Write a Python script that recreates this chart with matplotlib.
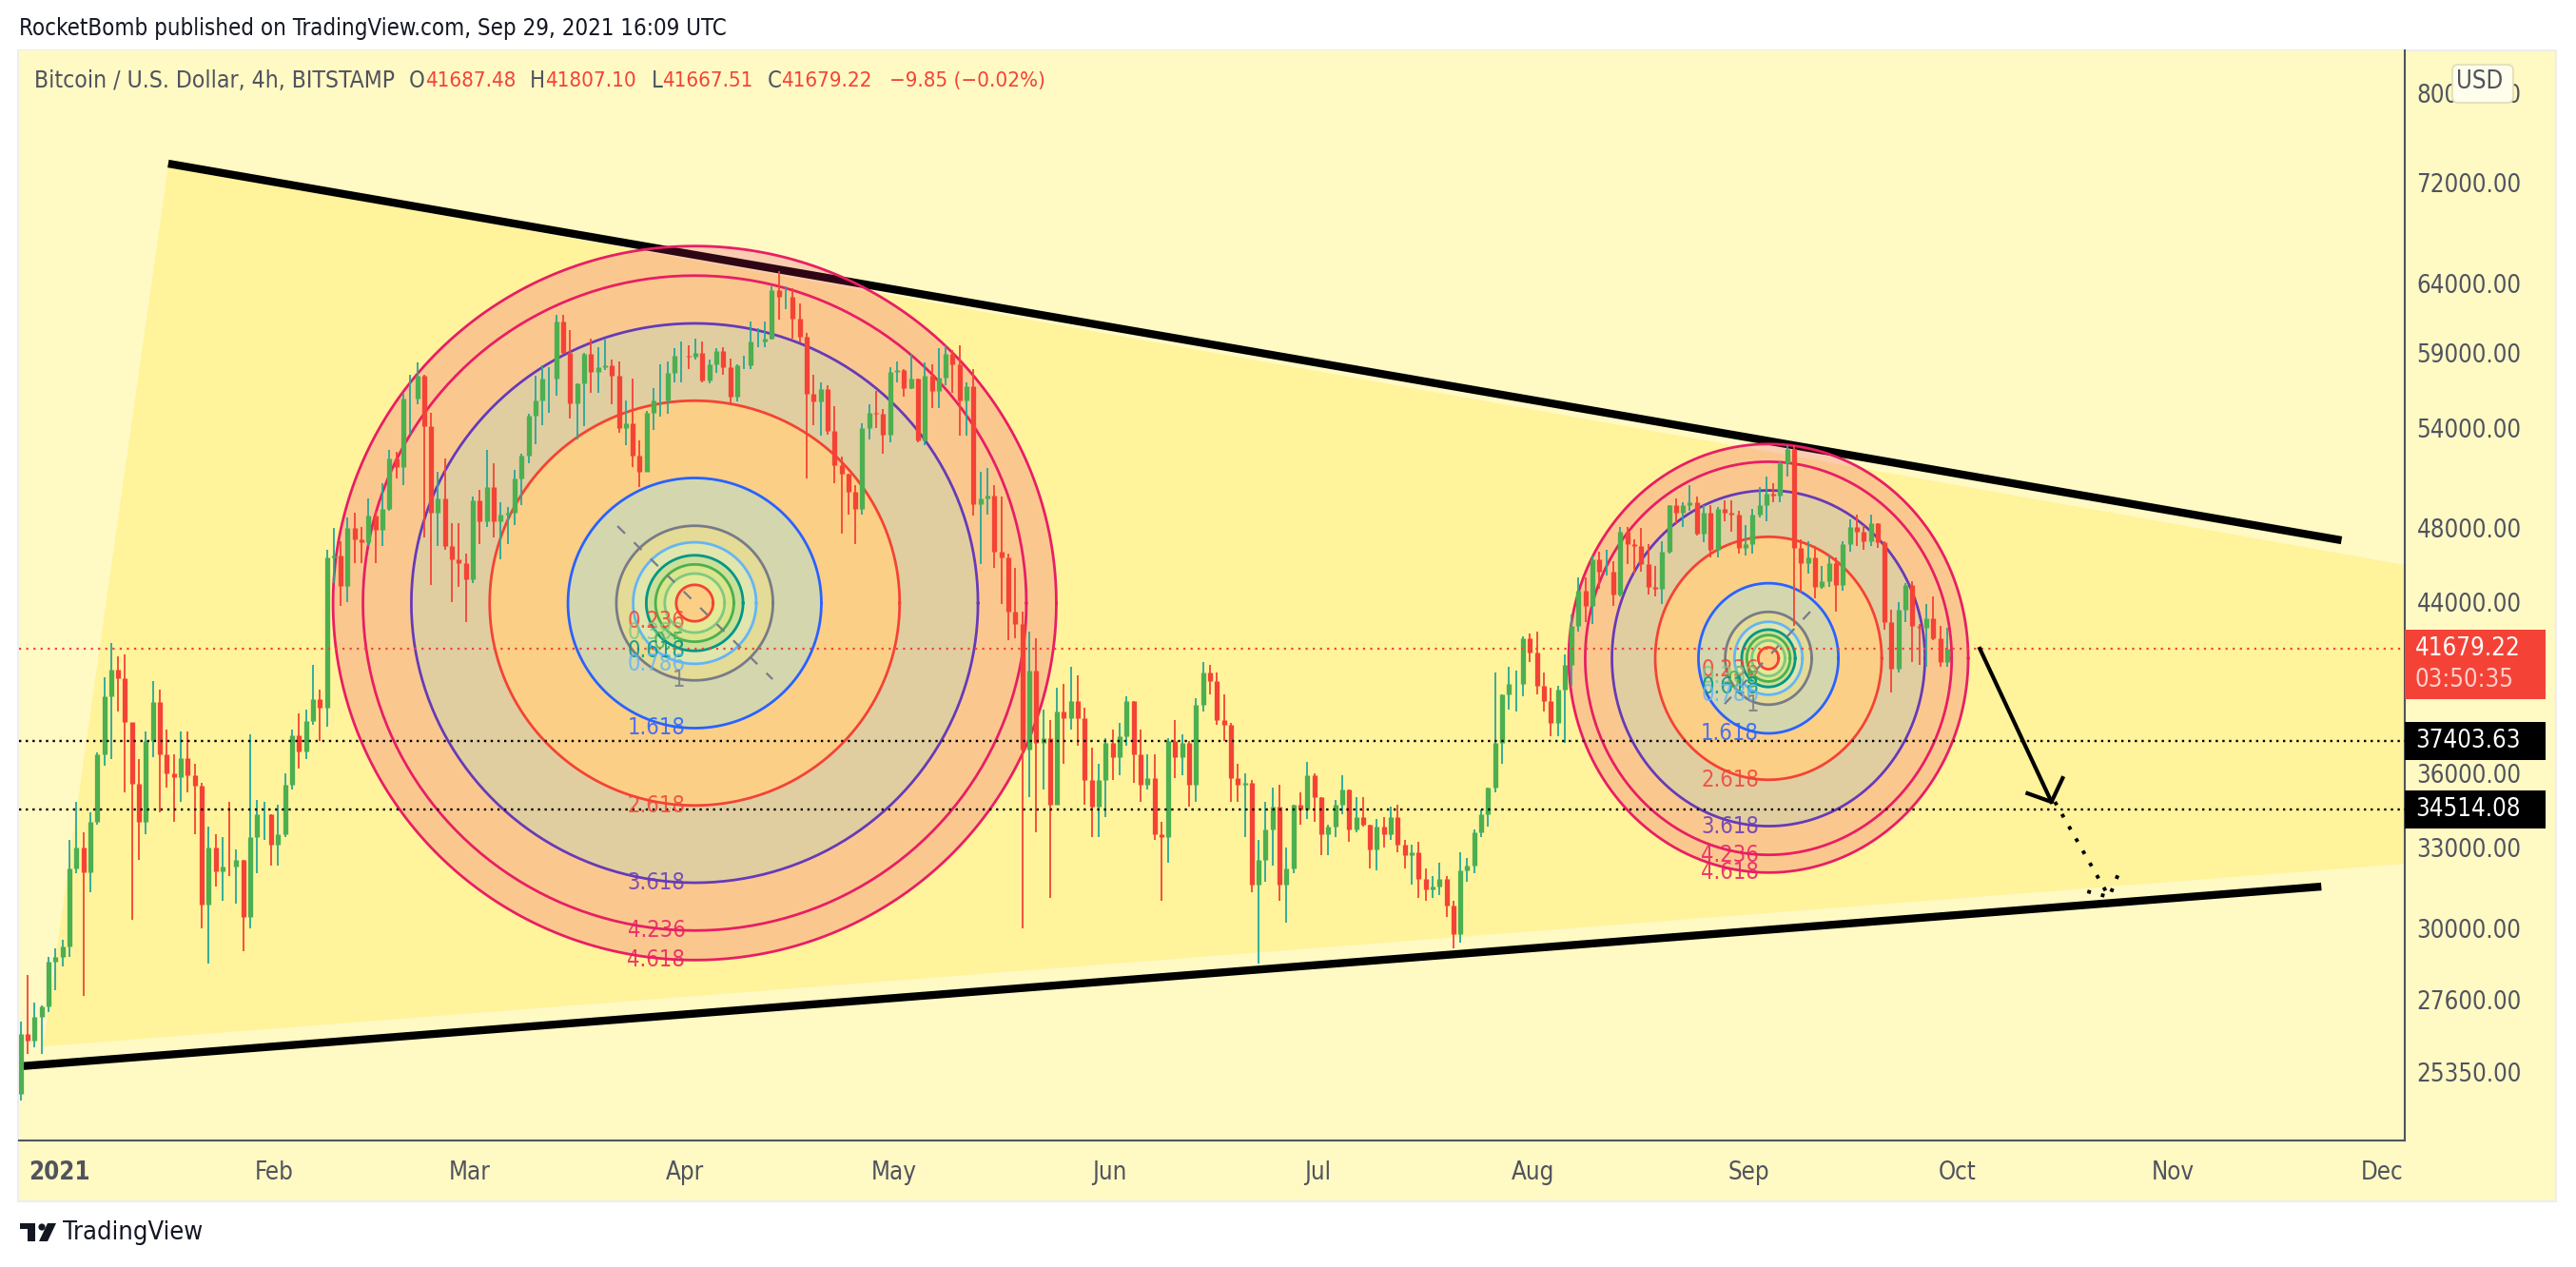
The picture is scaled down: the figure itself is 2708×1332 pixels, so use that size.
import numpy as np
import pandas as pd
import matplotlib
matplotlib.use("Agg")
import matplotlib.pyplot as plt
from matplotlib.patches import Rectangle, Circle, Polygon, FancyBboxPatch
from matplotlib.transforms import IdentityTransform

W, H = 2708, 1332

# daily values, Dec 26 2020 to Sep 29 2021
first_open = 24700
close = [26500, 26300, 27050, 27360, 28840, 29000,
    29370,32190,33000,32030,34000,36820,39400,40670,40240,38240,35540,34000,37390,39150,36800,36010,35840,36630,35900,35470,30850,33000,32090,32270,32260,32500,30400,33400,34300,34300,33100,
    33500,35500,37660,36950,38290,39250,38900,46400,46500,44850,48000,47400,47200,48700,47900,49130,52100,51600,55900,55900,57400,54100,48900,49700,47000,46300,46100,45200,
    49600,48400,50400,48400,48800,48900,50900,52300,54800,55800,57200,57200,61200,59000,55600,56900,58900,57700,58000,58100,57400,54000,54300,52300,51300,55000,55800,55800,57600,58800,58800,
    58700,59000,57100,58200,59100,58000,56000,58100,58100,59800,59800,60000,63500,63000,63000,61400,60100,56200,55700,56500,53800,51700,51200,50100,49100,54000,55000,54900,53600,57700,
    57800,56600,57200,53200,57400,56400,57300,58900,58200,55800,56700,49400,49700,49900,46700,46400,43500,42900,37000,40600,37300,37500,34700,38700,38400,39200,38400,35700,34600,35700,37300,
    36700,37600,39200,36800,35500,35800,33500,33400,37400,36700,37300,35500,39000,40500,40100,38300,38100,35800,35500,35600,31600,32500,33700,34600,31600,32200,34700,34500,35900,35000,
    33500,33800,34700,35300,33700,34200,33900,32900,33800,33500,34200,33100,32700,32800,31800,31400,31500,31800,30800,29800,32100,32300,33600,34300,35400,37300,39500,40000,40000,42200,41500,
    39900,39200,38200,39700,40900,42800,44600,43800,46300,45600,45600,44400,47800,47100,47000,46000,44800,44700,46700,49300,48900,49300,49500,47700,48900,46800,49100,48900,48800,46900,47100,
    48800,49300,50000,49900,51800,52700,46900,46100,46400,44800,45100,46100,44900,47100,48100,47800,47300,48300,47200,43000,40700,43600,44900,42800,42700,43200,42200,41000,41679.22]
high = [26900, 28400, 27500, 27400, 29000, 29300,
    29600,33300,34800,33600,34400,36900,40300,41950,41300,41400,38200,36600,37800,40100,39700,37900,36800,37800,37800,36400,35600,33800,33500,33400,34800,32900,32500,37700,34900,34800,34300,
    34700,36000,37900,38600,38800,40900,39700,46800,48000,47300,48600,48900,48100,49700,49000,50600,52600,52500,56300,57500,58300,57500,55000,51300,52100,48300,48300,46600,
    49800,50200,52600,51800,49500,49200,51400,52400,54900,57400,58100,58000,61700,61700,60600,56900,59000,60000,59400,59900,58500,58400,55800,57200,53200,55100,56600,58200,58400,59300,59800,
    59500,60000,59800,58500,59300,59400,58600,58200,58800,61200,60700,61200,63800,64900,63800,63600,62500,60400,57500,57000,56800,55400,52200,51200,50500,54300,55500,56400,55200,58000,
    58400,57900,58900,57200,58300,58200,59300,59500,59200,59500,57000,57900,51300,51500,50500,49800,46600,45800,43500,42500,42200,38800,38300,39800,40000,40800,40400,38900,37100,36400,37500,
    37900,38200,39400,39200,37900,36800,36800,34000,37500,38300,37700,37400,39300,41000,40900,40500,39500,38200,36400,36000,35700,33300,34800,35400,35500,33000,34700,35200,36500,36000,
    35000,33900,34900,35900,35300,35000,35000,33900,34100,34200,34600,34700,33300,33100,33200,32200,31900,32400,31900,31000,32800,32600,33700,34500,35400,40500,39500,40800,40600,42300,42400,
    42500,40500,39800,39900,41400,43400,45300,45300,46500,46700,46800,46200,48100,48100,47400,48000,47100,45900,47300,49300,49700,49500,50500,49800,49300,49300,49200,49600,49600,49000,48200,
    49100,50400,51000,50600,51900,52900,52900,47400,47300,47000,45900,46500,46400,47300,48500,48800,48200,48800,48300,47300,43600,44000,45000,45100,42900,43900,44300,42800,42700]
low = [24500, 25900, 26100, 25900, 27200, 27900,
    28700,29000,32000,27700,31300,33900,36300,36600,38700,35200,30300,32500,33500,36700,34400,35400,34000,34800,35200,33500,30000,28800,31500,31000,31900,30900,29200,30000,32000,33300,32300,
    32300,33400,35300,36200,36600,38100,37400,38000,45000,43800,44000,46100,46100,47000,46100,47000,49000,50900,50500,53600,55500,47500,44900,47000,46800,44000,44800,43000,
    45000,47100,48100,47500,46300,47100,48200,49300,51800,53000,54200,55000,56100,58900,54600,53300,54100,56300,56300,57800,55500,53700,52900,51600,50400,51300,53900,54700,54900,57000,57000,
    57900,58500,57000,56900,57600,57500,55500,55700,57900,57900,59400,59400,59900,61300,62100,60000,59700,50900,54200,53500,53600,50600,47700,48800,47100,48800,53300,54000,52400,53100,
    57000,56000,56500,53100,52900,55300,55300,56800,56300,53500,53500,48700,46000,48800,45800,43900,42100,42200,30000,35000,33600,35300,31100,34800,36400,37900,37200,34700,33400,33400,34200,
    35700,35900,37200,35600,34800,35300,33300,31000,32400,35800,35900,34600,34800,38700,39500,38100,37400,34800,34800,33400,31300,28800,31700,32300,31000,30200,32000,33900,34100,34000,
    32700,32700,33400,34300,33200,33600,33800,32200,32100,33000,33300,32800,32200,31600,31100,31000,31100,31200,30400,29300,29500,31700,32000,33400,33800,35200,36400,38800,38700,39400,41000,
    39500,38700,37600,37600,37300,39900,42500,43000,42900,44700,45400,43800,44300,46000,45500,45600,44400,44300,43900,46600,48300,48100,49000,47600,47200,46400,46400,48400,47800,46600,46500,
    46600,48600,48400,49500,49500,51000,42800,44500,45500,44200,44700,44800,43500,44600,46700,47000,46800,47000,46900,42600,39600,40500,43000,41000,40900,40800,42100,40800,40800]

# tick labels
price_ticks = [25350, 27600, 30000, 33000, 36000, 44000, 48000, 54000, 59000, 64000, 72000, 80000]
month_starts = ["2021-01-01", "2021-02-01", "2021-03-01", "2021-04-01", "2021-05-01", "2021-06-01",
                "2021-07-01", "2021-08-01", "2021-09-01", "2021-10-01", "2021-11-01", "2021-12-01"]
month_labels = ["2021", "Feb", "Mar", "Apr", "May", "Jun", "Jul", "Aug", "Sep", "Oct", "Nov", "Dec"]

# drawings, x is days since Jan 1 2021
upper_days, upper_prices = [15.7, 328.2], [73665, 47327]
lower_days, lower_prices = [-5.7, 325.3], [25513, 31511]
wedge_days = [15.7, 337.3, 337.3, -2.3]
wedge_prices = [73413, 45972, 32368, 26117]
arrow_days, arrow_prices = [276.2, 286.5], [41667, 34806]
arrow_head_days, arrow_head_prices = [283.05, 286.5, 288.1], [35159, 34806, 35791]
dot_days, dot_prices = [287.0, 294.8], [34806, 31127]
dot_head_days, dot_head_prices = [291.65, 294.8, 296.2], [31334, 31127, 32043]

last_price = 41679.22
level_a, level_b = 37403.63, 34514.08

fib_levels = [0.236, 0.382, 0.5, 0.618, 0.786, 1, 1.618, 2.618, 3.618, 4.236, 4.618]
fib_names = ["0.236", "0.382", "0.5", "0.618", "0.786", "1", "1.618", "2.618", "3.618", "4.236", "4.618"]
fib_colors = ["#F44336", "#81C784", "#4CAF50", "#009688", "#64B5F6", "#787B86",
              "#2962FF", "#F44336", "#673AB7", "#E91E63", "#E91E63"]

# big and small circle: centre, unit radius in days and in log price
big_circle = dict(day=91.4, price=43963, rx=11.26, ry=0.0908)
big_ray_days, big_ray_prices = [80.3, 102.6], [48124, 40204]
small_circle = dict(day=245.8, price=41202, rx=6.22, ry=0.0545)
small_ray_days, small_ray_prices = [251.8, 239.5], [43521, 39051]

BG = "#FFF9C4"
TXT = "#50535E"
FONT = dict(family="DejaVu Sans", stretch="condensed")


def px(x, y):
    # figure fraction from picture pixels (origin top left)
    return x / W, 1 - y / H


def put_text(x, y, s, color=TXT, size=15, **kw):
    fig.text(*px(x, y), s, color=color, fontsize=size, va="center", **FONT, **kw)


def draw_fib(c, ray_days, ray_prices):
    t = np.linspace(0, 2 * np.pi, 361)
    inner = None
    for lev, name, col in zip(fib_levels, fib_names, fib_colors):
        xo = c["day"] + lev * c["rx"] * np.cos(t)
        yo = c["price"] * np.exp(lev * c["ry"] * np.sin(t))
        if inner is None:
            ax.fill(xo, yo, color=col, alpha=0.2, lw=0, zorder=3)
        else:
            ax.fill(np.r_[xo, inner[0][::-1]], np.r_[yo, inner[1][::-1]], color=col, alpha=0.2, lw=0, zorder=3)
        ax.plot(xo, yo, color=col, lw=2, zorder=4)
        inner = (xo, yo)
        # labels sit on the bottom of each ring, left of centre
        ax.text(c["day"] - 1.35, c["price"] * np.exp(-lev * c["ry"]), name, color=col, alpha=0.85,
                fontsize=17, ha="right", va="center", zorder=7, **FONT)
    ax.plot(ray_days, ray_prices, color="#787B86", lw=1.6, ls=(0, (5, 6)), zorder=6)


fig = plt.figure(figsize=(W / 100, H / 100), dpi=100, facecolor="white")

# outer frame of the snapshot
fig.add_artist(Rectangle(px(19, 1263), 2668 / W, 1210 / H, transform=fig.transFigure,
                         facecolor=BG, edgecolor="#EEEEEE", lw=1.5, zorder=0))

ax = fig.add_axes([20 / W, 1 - 1199 / H, 2508 / W, 1146 / H])
ax.set_facecolor(BG)
ax.set_yscale("log")
ax.set_xlim(-5.75, 337.3)
ax.set_ylim(23385, 84140)

ax.fill(wedge_days, wedge_prices, color="#FFF39B", lw=0, zorder=1)
ax.plot(upper_days, upper_prices, color="black", lw=6, solid_capstyle="butt", zorder=2)
ax.plot(lower_days, lower_prices, color="black", lw=6, solid_capstyle="butt", zorder=2)

draw_fib(big_circle, big_ray_days, big_ray_prices)
draw_fib(small_circle, small_ray_days, small_ray_prices)

# candles
days = np.arange(len(close)) - 6 + 0.5
closes = np.array(close, dtype=float)
highs = np.array(high, dtype=float)
lows = np.array(low, dtype=float)
opens = np.r_[first_open, closes[:-1]]
up = closes >= opens
ax.vlines(days[up], lows[up], highs[up], color="#26A69A", lw=1.3, zorder=5)
ax.vlines(days[~up], lows[~up], highs[~up], color="#F44336", lw=1.3, zorder=5)
ax.vlines(days[up], opens[up], closes[up], color="#4CAF50", lw=3.8, zorder=5)
ax.vlines(days[~up], closes[~up], opens[~up], color="#F44336", lw=3.8, zorder=5)

# price lines
ax.axhline(last_price, color="#F44336", lw=1.6, ls=(0, (1, 2.4)), zorder=6)
ax.axhline(level_a, color="black", lw=1.7, ls=(0, (1, 2)), zorder=6)
ax.axhline(level_b, color="black", lw=1.7, ls=(0, (1, 2)), zorder=6)

# projection arrows
ax.plot(arrow_days, arrow_prices, color="black", lw=3, zorder=8)
ax.plot(arrow_head_days, arrow_head_prices, color="black", lw=3, zorder=8)
ax.plot(dot_days, dot_prices, color="black", lw=2.8, ls=(0, (1, 2.8)), zorder=8)
ax.plot(dot_head_days, dot_head_prices, color="black", lw=2.8, ls=(0, (1, 2.8)), zorder=8)

# axes
for name in ["top", "left"]:
    ax.spines[name].set_visible(False)
for name in ["right", "bottom"]:
    ax.spines[name].set_color(TXT)
    ax.spines[name].set_linewidth(1.5)
ax.yaxis.tick_right()
ax.set_yticks(price_ticks)
ax.set_yticklabels(["%.2f" % p for p in price_ticks], color=TXT, fontsize=18.5, **FONT)
ax.minorticks_off()
ax.tick_params(axis="y", length=0, pad=9)

jan1 = pd.Timestamp("2021-01-01")
ax.set_xticks([(pd.Timestamp(m) - jan1).days for m in month_starts])
ax.set_xticklabels(month_labels, color=TXT, fontsize=18.5, **FONT)
ax.get_xticklabels()[0].set_fontweight("bold")
ax.tick_params(axis="x", length=0, pad=15)

fig.canvas.draw()


def price_y(p):
    return ax.transData.transform((0, p))[1]


def tag(p, y0, y1, color):
    # label box on the price scale
    fig.add_artist(Rectangle((2528, H - y1), 148, y1 - y0, transform=IdentityTransform(),
                             facecolor=color, edgecolor="none", zorder=5))
    fig.text(2539 / W, price_y(p) / H, "%.2f" % p, color="white", fontsize=18.5, va="center", zorder=6, **FONT)


tag(last_price, 662, 735, "#F44336")
put_text(2539, 715, "03:50:35", color="#FFD0CC", size=18.5, zorder=6)
tag(level_a, 759, 799, "black")
tag(level_b, 831, 871, "black")

# USD button
fig.add_artist(FancyBboxPatch((2580, H - 106), 60, 36, boxstyle="round,pad=2,rounding_size=6",
                              transform=IdentityTransform(), facecolor="#FFFDEB", edgecolor="#E0DDB8", lw=1.2, zorder=5))
put_text(2582, 86, "USD", size=18.5, zorder=6)

# header and legend
put_text(20, 30, "RocketBomb published on TradingView.com, Sep 29, 2021 16:09 UTC", color="#131722", size=17.2)
put_text(36, 85, "Bitcoin / U.S. Dollar, 4h, BITSTAMP", size=17.7)
red = "#F44336"
put_text(430, 85, "O", size=17)
put_text(447, 85, "41687.48", color=red, size=16)
put_text(557, 85, "H", size=17)
put_text(573, 85, "41807.10", color=red, size=16)
put_text(685, 85, "L", size=17)
put_text(696, 85, "41667.51", color=red, size=16)
put_text(807, 85, "C", size=17)
put_text(821, 85, "41679.22", color=red, size=16)
put_text(935, 85, "\u22129.85 (\u22120.02%)", color=red, size=16)

# TradingView logo
ink = "#131722"
fig.add_artist(Rectangle((21, H - 1292), 16, 6, transform=IdentityTransform(), color=ink, lw=0))
fig.add_artist(Rectangle((29, H - 1305), 8, 14, transform=IdentityTransform(), color=ink, lw=0))
fig.add_artist(Circle((44, H - 1290), 3.6, transform=IdentityTransform(), color=ink, lw=0))
fig.add_artist(Polygon([(50, H - 1286), (59, H - 1286), (50, H - 1305), (41, H - 1305)], transform=IdentityTransform(), color=ink, lw=0))
put_text(66, 1296, "TradingView", color=ink, size=19.5)

fig.savefig("out.png", dpi=100)
